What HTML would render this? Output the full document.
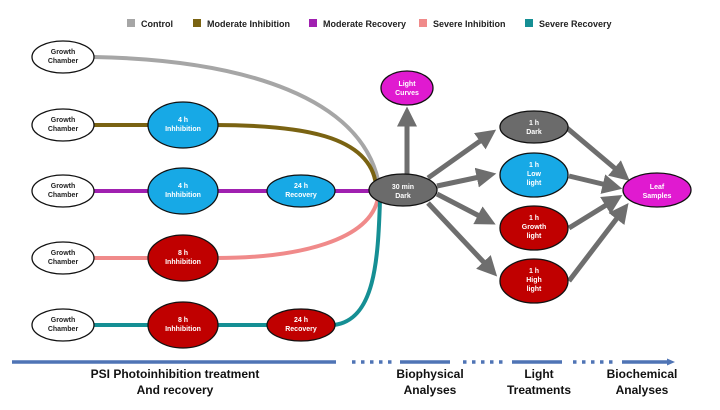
<!DOCTYPE html>
<html><head><meta charset="utf-8"><style>
body{margin:0;background:#fff}
svg text{font-family:"Liberation Sans",sans-serif;font-weight:bold}
</style></head><body>
<svg width="720" height="405" viewBox="0 0 720 405" xmlns="http://www.w3.org/2000/svg">
<defs>
<marker id="ah" markerWidth="4" markerHeight="4" refX="2.5" refY="2" orient="auto" markerUnits="strokeWidth"><path d="M0,0 L4,2 L0,4 z" fill="#6e6e6e"/></marker>
</defs>
<g font-size="9" fill="#222">
<rect x="127" y="19" width="8" height="8" fill="#a6a6a6"/><text x="141" y="27">Control</text>
<rect x="193" y="19" width="8" height="8" fill="#7a6312"/><text x="207" y="27">Moderate Inhibition</text>
<rect x="309" y="19" width="8" height="8" fill="#a020b0"/><text x="323" y="27">Moderate Recovery</text>
<rect x="419" y="19" width="8" height="8" fill="#f08a8a"/><text x="433" y="27">Severe Inhibition</text>
<rect x="525" y="19" width="8" height="8" fill="#158f94"/><text x="539" y="27">Severe Recovery</text>
</g>
<g fill="none" stroke-width="4">
<path d="M94,57 C250,60 360,100 378,180" stroke="#a6a6a6"/>
<path d="M94,125 L150,125 M214,125 C300,125 370,135 376,185" stroke="#7a6312"/>
<path d="M94,191 L370,191" stroke="#a020b0"/>
<path d="M94,258 L150,258 M216,258 C300,258 370,240 378,198" stroke="#f08a8a"/>
<path d="M94,325 L150,325 M216,325 L268,325 M334,325 C375,320 378,260 380,200" stroke="#158f94"/>
</g>
<g stroke="#6e6e6e" stroke-width="5" fill="none" marker-end="url(#ah)">
<line x1="407" y1="174" x2="407" y2="114"/>
<line x1="428" y1="178" x2="490" y2="134"/>
<line x1="437" y1="186" x2="489" y2="175"/>
<line x1="437" y1="194" x2="489" y2="221"/>
<line x1="428" y1="203" x2="492" y2="271"/>
<line x1="567" y1="128" x2="624" y2="176"/>
<line x1="569" y1="176" x2="615" y2="187"/>
<line x1="569" y1="228" x2="616" y2="199"/>
<line x1="569" y1="281" x2="624" y2="209"/>
</g>
<g stroke="#111" stroke-width="1.3">
<ellipse cx="63" cy="57" rx="31" ry="16" fill="#fff"/>
<ellipse cx="63" cy="125" rx="31" ry="16" fill="#fff"/>
<ellipse cx="63" cy="191" rx="31" ry="16" fill="#fff"/>
<ellipse cx="63" cy="258" rx="31" ry="16" fill="#fff"/>
<ellipse cx="63" cy="325" rx="31" ry="16" fill="#fff"/>
<ellipse cx="183" cy="125" rx="35" ry="23" fill="#17a9e6"/>
<ellipse cx="183" cy="191" rx="35" ry="23" fill="#17a9e6"/>
<ellipse cx="301" cy="191" rx="34" ry="16" fill="#17a9e6"/>
<ellipse cx="183" cy="258" rx="35" ry="23" fill="#c00000"/>
<ellipse cx="183" cy="325" rx="35" ry="23" fill="#c00000"/>
<ellipse cx="301" cy="325" rx="34" ry="16" fill="#c00000"/>
<ellipse cx="403" cy="190" rx="34" ry="16" fill="#6b6b6b"/>
<ellipse cx="407" cy="88" rx="26" ry="17" fill="#e01ad0"/>
<ellipse cx="534" cy="127" rx="34" ry="16" fill="#6b6b6b"/>
<ellipse cx="534" cy="175" rx="34" ry="22" fill="#17a9e6"/>
<ellipse cx="534" cy="228" rx="34" ry="22" fill="#c00000"/>
<ellipse cx="534" cy="281" rx="34" ry="22" fill="#c00000"/>
<ellipse cx="657" cy="190" rx="34" ry="17" fill="#e01ad0"/>
</g>
<g font-size="7" text-anchor="middle" fill="#222">
<text x="63" y="54">Growth</text><text x="63" y="63">Chamber</text>
<text x="63" y="122">Growth</text><text x="63" y="131">Chamber</text>
<text x="63" y="188">Growth</text><text x="63" y="197">Chamber</text>
<text x="63" y="255">Growth</text><text x="63" y="264">Chamber</text>
<text x="63" y="322">Growth</text><text x="63" y="331">Chamber</text>
</g>
<g font-size="7" text-anchor="middle" fill="#fff">
<text x="183" y="122">4 h</text><text x="183" y="131">Inhhibition</text>
<text x="183" y="188">4 h</text><text x="183" y="197">Inhhibition</text>
<text x="301" y="188">24 h</text><text x="301" y="197">Recovery</text>
<text x="183" y="255">8 h</text><text x="183" y="264">Inhhibition</text>
<text x="183" y="322">8 h</text><text x="183" y="331">Inhhibition</text>
<text x="301" y="322">24 h</text><text x="301" y="331">Recovery</text>
<text x="403" y="189">30 min</text><text x="403" y="198">Dark</text>
<text x="407" y="86">Light</text><text x="407" y="95">Curves</text>
<text x="534" y="125">1 h</text><text x="534" y="134">Dark</text>
<text x="534" y="167">1 h</text><text x="534" y="176">Low</text><text x="534" y="185">light</text>
<text x="534" y="220">1 h</text><text x="534" y="229">Growth</text><text x="534" y="238">light</text>
<text x="534" y="273">1 h</text><text x="534" y="282">High</text><text x="534" y="291">light</text>
<text x="657" y="189">Leaf</text><text x="657" y="198">Samples</text>
</g>
<g stroke="#4f74b5" stroke-width="3.5" fill="none">
<line x1="12" y1="362" x2="336" y2="362"/>
<line x1="352" y1="362" x2="392" y2="362" stroke-dasharray="3.5,5.5"/>
<line x1="400" y1="362" x2="450" y2="362"/>
<line x1="463" y1="362" x2="503" y2="362" stroke-dasharray="3.5,5.5"/>
<line x1="512" y1="362" x2="562" y2="362"/>
<line x1="573" y1="362" x2="613" y2="362" stroke-dasharray="3.5,5.5"/>
<line x1="622" y1="362" x2="668" y2="362"/>
</g>
<path d="M667,358.5 L675,362 L667,365.5z" fill="#4f74b5"/>
<g font-size="12" text-anchor="middle" fill="#111">
<text x="175" y="378">PSI  Photoinhibition treatment</text>
<text x="175" y="394">And recovery</text>
<text x="430" y="378">Biophysical</text><text x="430" y="394">Analyses</text>
<text x="539" y="378">Light</text><text x="539" y="394">Treatments</text>
<text x="642" y="378">Biochemical</text><text x="642" y="394">Analyses</text>
</g>
</svg>
</body></html>
